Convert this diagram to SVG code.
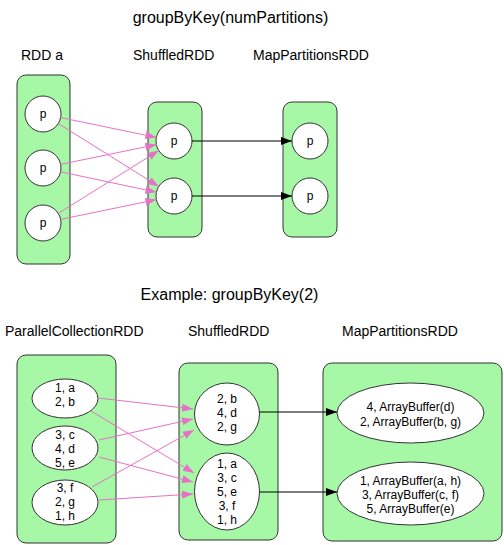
<svg xmlns="http://www.w3.org/2000/svg" width="504" height="545" viewBox="0 0 504 545">
<defs>
<style>
text{font-family:"Liberation Sans",Arial,Helvetica,sans-serif;fill:#000}
.title{font-size:16px;text-anchor:middle}
.lbl{font-size:14px}
.t{font-size:12px;text-anchor:middle}
.box{fill:#a6f8a6;stroke:#333;stroke-width:1}
.nd{fill:#fff;stroke:#333;stroke-width:1}
.pk{stroke:#e671c8;stroke-width:1;fill:none;marker-end:url(#pa)}
.bk{stroke:#000;stroke-width:1.2;fill:none;marker-end:url(#ba)}
</style>
<marker id="pa" markerUnits="userSpaceOnUse" markerWidth="12" markerHeight="10" viewBox="0 0 12 10" refX="11" refY="5" orient="auto"><path d="M0,1 L11,5 L0,9 Z" fill="#e671c8"/></marker>
<marker id="ba" markerUnits="userSpaceOnUse" markerWidth="12" markerHeight="10" viewBox="0 0 12 10" refX="11" refY="5" orient="auto"><path d="M0,1 L11,5 L0,9 Z" fill="#000"/></marker>
</defs>
<rect width="504" height="545" fill="#fff"/>

<text class="title" x="230.5" y="23">groupByKey(numPartitions)</text>
<text class="lbl" x="21" y="60">RDD a</text>
<text class="lbl" x="133" y="60">ShuffledRDD</text>
<text class="lbl" x="253" y="60">MapPartitionsRDD</text>

<text class="title" x="229.5" y="300">Example: groupByKey(2)</text>
<text class="lbl" x="5" y="336">ParallelCollectionRDD</text>
<text class="lbl" x="188" y="336">ShuffledRDD</text>
<text class="lbl" x="342" y="336">MapPartitionsRDD</text>

<g id="rdd-a">
<rect class="box" x="17" y="75" width="53" height="189" rx="9"/>
<circle class="nd" cx="43" cy="114" r="18"/><text class="t" x="43" y="118">p</text>
<circle class="nd" cx="43" cy="168" r="18"/><text class="t" x="43" y="172">p</text>
<circle class="nd" cx="43" cy="223" r="18"/><text class="t" x="43" y="227">p</text>
</g>
<g id="shuffled-top">
<rect class="box" x="148" y="102" width="54" height="135" rx="9"/>
<circle class="nd" cx="174" cy="141" r="18"/><text class="t" x="174" y="145">p</text>
<circle class="nd" cx="174" cy="196" r="18"/><text class="t" x="174" y="200">p</text>
</g>
<g id="mappart-top">
<rect class="box" x="283" y="102" width="54" height="135" rx="9"/>
<circle class="nd" cx="310" cy="141" r="18"/><text class="t" x="310" y="145">p</text>
<circle class="nd" cx="310" cy="196" r="18"/><text class="t" x="310" y="200">p</text>
</g>

<g id="parallel">
<rect class="box" x="17" y="355" width="99" height="188" rx="9"/>
<ellipse class="nd" cx="65" cy="398.5" rx="33" ry="19.5"/>
<text class="t" x="65" y="392">1, a</text><text class="t" x="65" y="406">2, b</text>
<ellipse class="nd" cx="65" cy="448" rx="33" ry="22"/>
<text class="t" x="65" y="439">3, c</text><text class="t" x="65" y="453">4, d</text><text class="t" x="65" y="467">5, e</text>
<ellipse class="nd" cx="65" cy="502.5" rx="33" ry="22.5"/>
<text class="t" x="65" y="492">3, f</text><text class="t" x="65" y="506">2, g</text><text class="t" x="65" y="520">1, h</text>
</g>
<g id="shuffled-bottom">
<rect class="box" x="179" y="363" width="99" height="177" rx="9"/>
<ellipse class="nd" cx="227" cy="414" rx="32.5" ry="31"/>
<text class="t" x="227" y="403">2, b</text><text class="t" x="227" y="417">4, d</text><text class="t" x="227" y="431">2, g</text>
<ellipse class="nd" cx="227" cy="491.5" rx="32.5" ry="38.5"/>
<text class="t" x="227" y="468">1, a</text><text class="t" x="227" y="482">3, c</text><text class="t" x="227" y="496">5, e</text><text class="t" x="227" y="510">3, f</text><text class="t" x="227" y="524">1, h</text>
</g>
<g id="mappart-bottom">
<rect class="box" x="323" y="363" width="179" height="178" rx="9"/>
<ellipse class="nd" cx="410.5" cy="413" rx="73.5" ry="30"/>
<text class="t" x="410.5" y="411">4, ArrayBuffer(d)</text><text class="t" x="410.5" y="426">2, ArrayBuffer(b, g)</text>
<ellipse class="nd" cx="410.5" cy="493.5" rx="73.5" ry="31.5"/>
<text class="t" x="410.5" y="485">1, ArrayBuffer(a, h)</text><text class="t" x="410.5" y="499">3, ArrayBuffer(c, f)</text><text class="t" x="410.5" y="513">5, ArrayBuffer(e)</text>
</g>

<g id="connectors">
<line class="pk" x1="60.6" y1="117.6" x2="156.4" y2="137.4"/>
<line class="pk" x1="58.3" y1="123.6" x2="158.7" y2="186.4"/>
<line class="pk" x1="60.6" y1="164.4" x2="156.4" y2="144.6"/>
<line class="pk" x1="60.6" y1="171.8" x2="156.4" y2="192.2"/>
<line class="pk" x1="58.3" y1="213.4" x2="158.7" y2="150.6"/>
<line class="pk" x1="60.6" y1="219.4" x2="156.4" y2="199.6"/>
<line class="bk" x1="192" y1="141" x2="292" y2="141"/>
<line class="bk" x1="192" y1="196" x2="292" y2="196"/>

<line class="pk" x1="98" y1="398" x2="193" y2="409"/>
<line class="pk" x1="91" y1="411" x2="194" y2="473"/>
<line class="pk" x1="99" y1="440" x2="193" y2="419"/>
<line class="pk" x1="99" y1="457" x2="193" y2="482"/>
<line class="pk" x1="92" y1="487" x2="194" y2="430"/>
<line class="pk" x1="99" y1="500" x2="193" y2="494"/>
<line class="bk" x1="259.5" y1="412" x2="337" y2="412"/>
<line class="bk" x1="259.5" y1="492" x2="337" y2="492"/>
</g>
</svg>
